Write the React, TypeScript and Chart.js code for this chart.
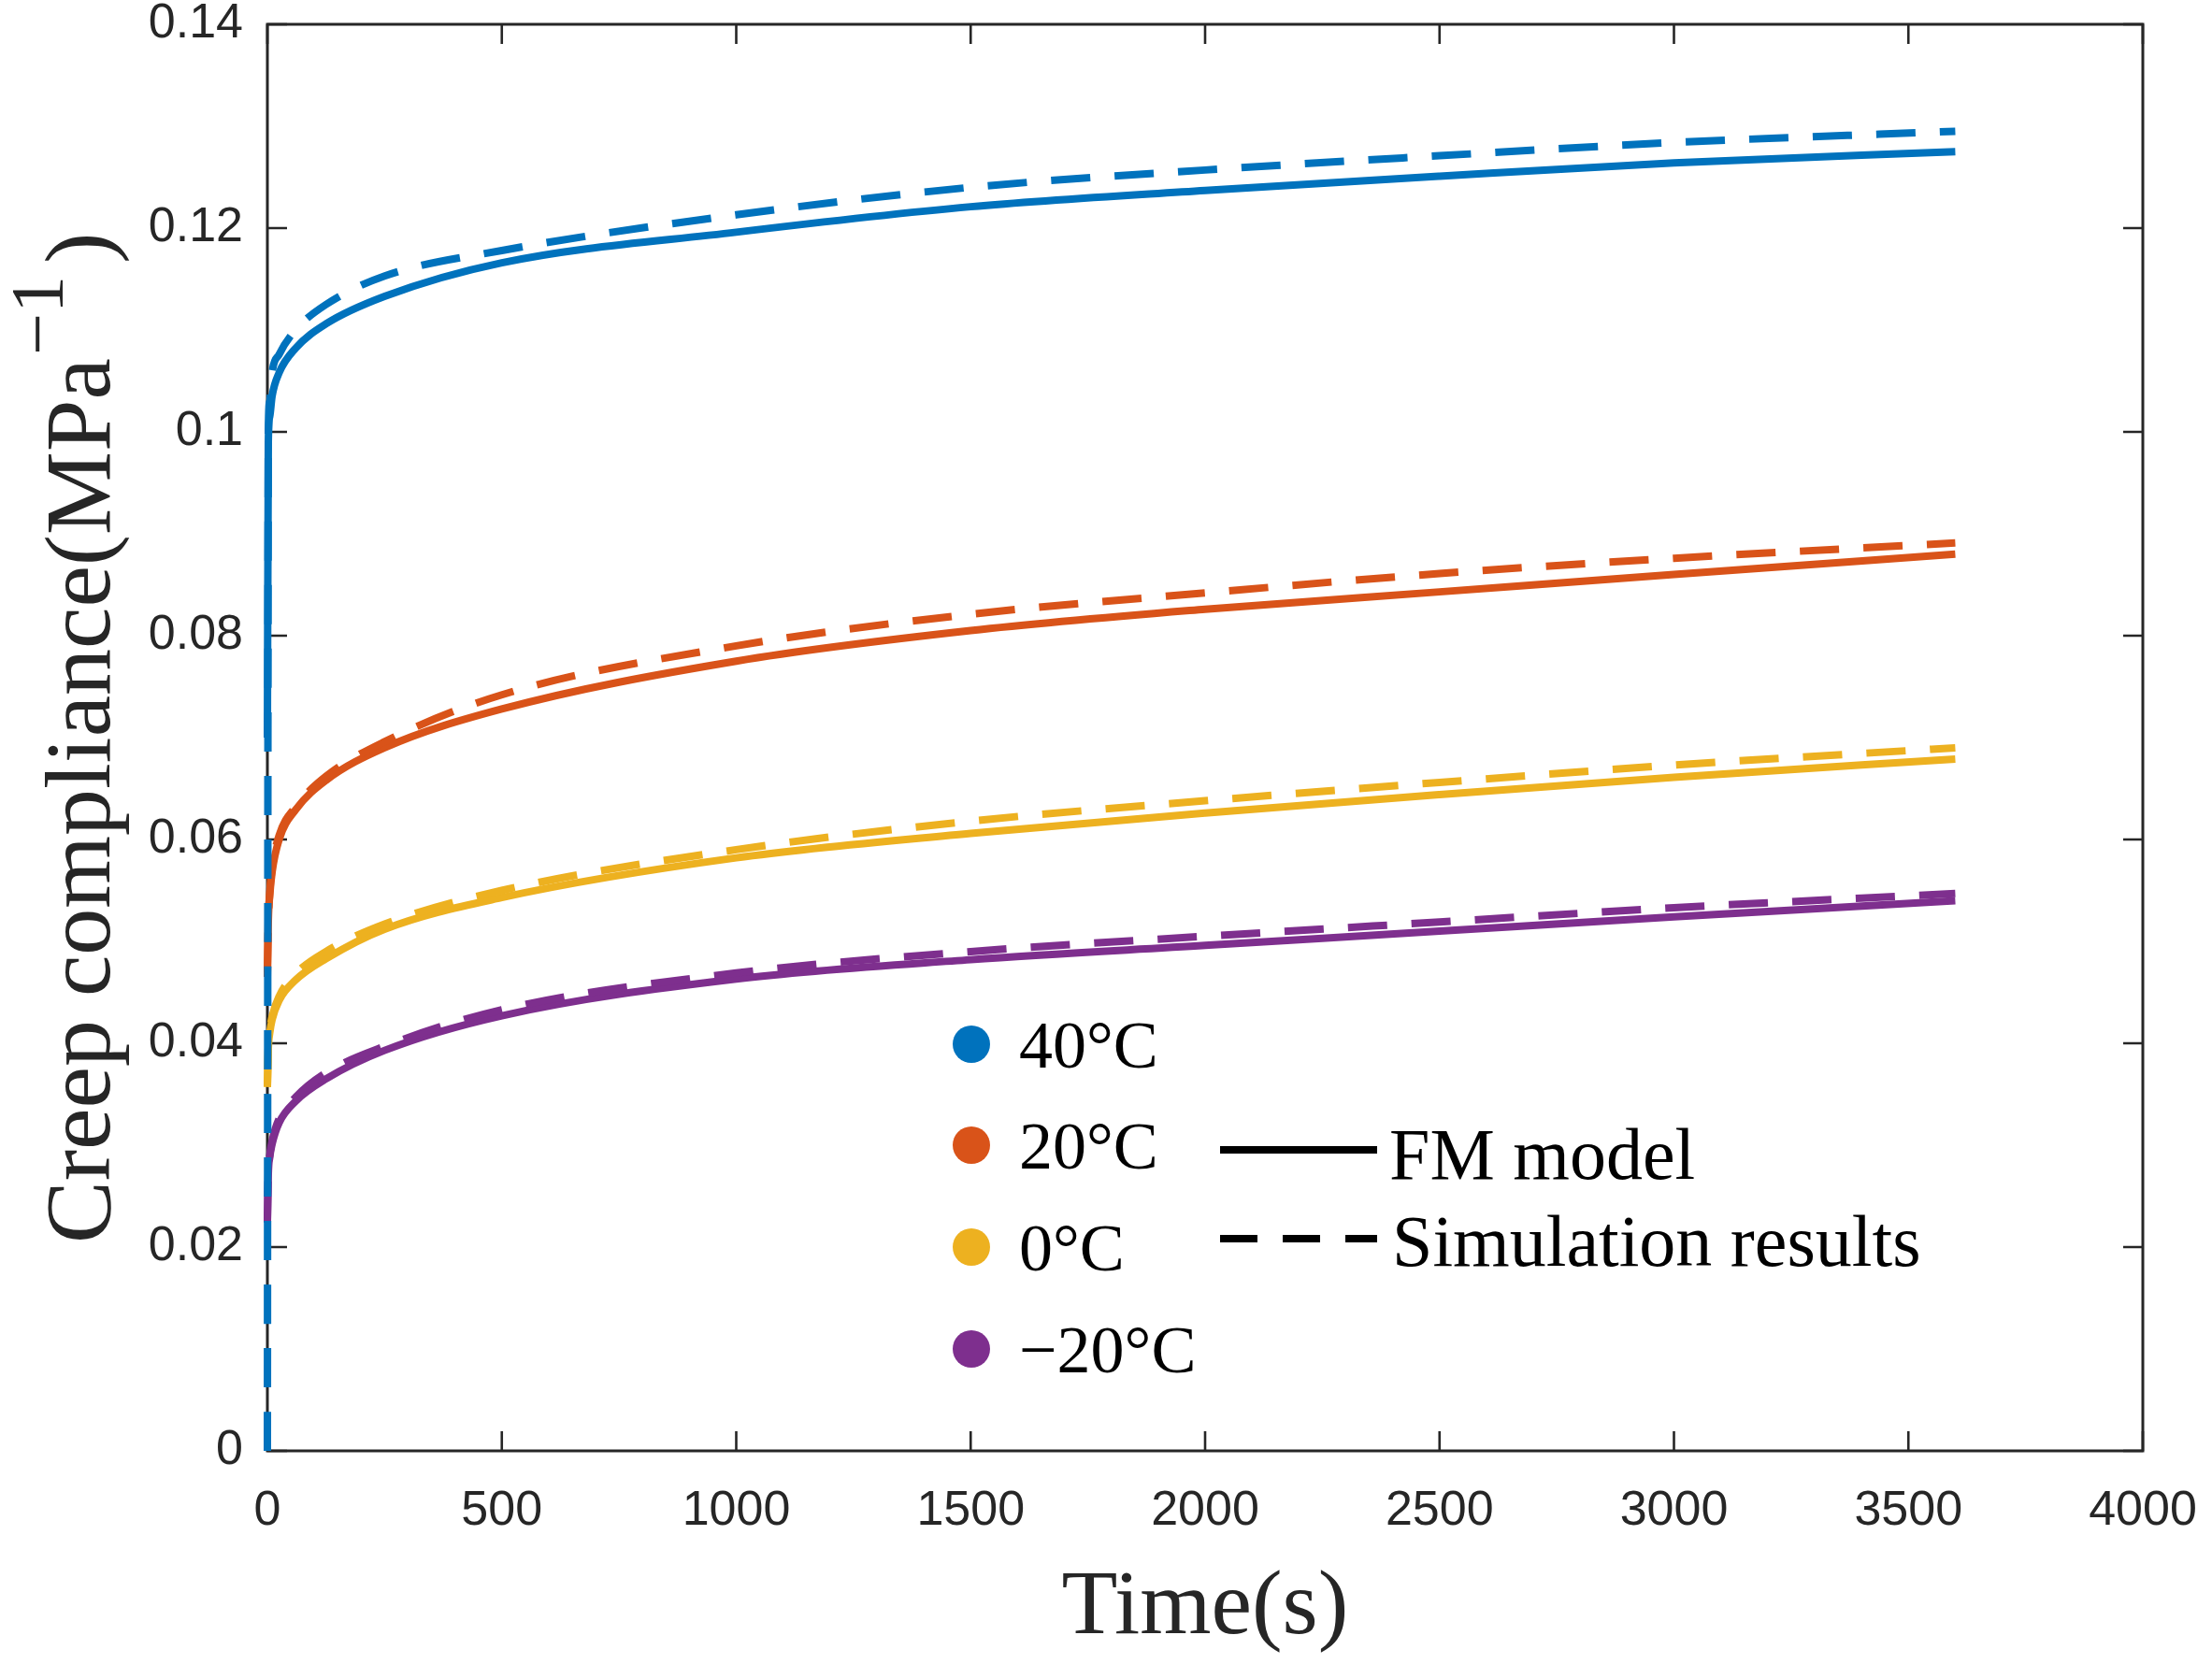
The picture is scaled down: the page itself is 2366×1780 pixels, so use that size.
import React, { useEffect, useRef } from 'react';
import { Chart, registerables } from 'chart.js';

Chart.register(...registerables);

// ---------- data ----------
const TIME = [0, 2, 5, 10, 25, 60, 125, 250, 500, 1000, 1500, 2000, 2500, 3000, 3600];

const FM_40 = [0.07, 0.099, 0.1015, 0.1035, 0.1058, 0.1082, 0.1106, 0.1133, 0.1166, 0.1196, 0.1221, 0.1237, 0.1251, 0.1264, 0.1275];
const SIM_40 = [0, 0.1, 0.103, 0.1058, 0.1076, 0.11, 0.1125, 0.1153, 0.1178, 0.1213, 0.124, 0.1257, 0.1271, 0.1284, 0.1295];

const FM_20 = [0.0465, 0.052, 0.0545, 0.0568, 0.06, 0.0629, 0.0658, 0.069, 0.0728, 0.0775, 0.0805, 0.0826, 0.0843, 0.086, 0.088];
const SIM_20 = [0.047, 0.052, 0.0548, 0.0572, 0.0604, 0.0632, 0.0662, 0.0696, 0.0742, 0.079, 0.0821, 0.0842, 0.0861, 0.0876, 0.0891];

const FM_0 = [0.0357, 0.0395, 0.041, 0.0423, 0.0442, 0.0462, 0.0483, 0.0512, 0.0543, 0.0582, 0.0606, 0.0626, 0.0644, 0.0661, 0.0679];
const SIM_0 = [0.0358, 0.0396, 0.0412, 0.0426, 0.0446, 0.0468, 0.049, 0.0517, 0.055, 0.059, 0.0618, 0.0638, 0.0656, 0.0673, 0.069];

const FM_M20 = [0.0224, 0.0272, 0.0288, 0.0301, 0.0322, 0.0343, 0.0365, 0.0393, 0.0427, 0.0463, 0.0482, 0.0496, 0.051, 0.0524, 0.054];
const SIM_M20 = [0.0226, 0.0275, 0.029, 0.0304, 0.0326, 0.0347, 0.0371, 0.0397, 0.0433, 0.0469, 0.049, 0.0505, 0.0519, 0.0533, 0.0547];

const X_TICK_LABELS = ['0', '500', '1000', '1500', '2000', '2500', '3000', '3500', '4000'];
const Y_TICK_LABELS = ['0', '0.02', '0.04', '0.06', '0.08', '0.1', '0.12', '0.14'];

const TEMP_LABELS = ['40°C', '20°C', '0°C', '\u221220°C'];
const STYLE_LABELS = ['FM model', 'Simulation results'];
const COLORS = ['#0072BD', '#D95319', '#EDB120', '#7E2F8E'];

const X_TITLE = 'Time(s)';
const Y_TITLE_MAIN = 'Creep compliance(MPa';
const Y_TITLE_SUP = '\u22121';
const Y_TITLE_END = ')';

const AXIS_COLOR = '#262626';
const SANS = '"Liberation Sans", Arial, sans-serif';
const SERIF = '"Liberation Serif", "Times New Roman", serif';

const toPoints = (vals: number[]) => TIME.map((t, i) => ({ x: t, y: vals[i] }));

const DASH = [42, 26];
const LW = 8;

export default function App() {
  const ref = useRef<HTMLCanvasElement | null>(null);

  useEffect(() => {
    const canvas = ref.current;
    if (!canvas) return;

    const framePlugin = {
      id: 'frame',
      beforeDatasetsDraw(chart: any) {
        const { ctx, chartArea } = chart;
        const { left, right, top, bottom } = chartArea;
        const xs = chart.scales.x;
        const ys = chart.scales.y;
        ctx.save();
        ctx.strokeStyle = AXIS_COLOR;
        ctx.lineWidth = 3;
        ctx.strokeRect(left, top, right - left, bottom - top);
        ctx.lineWidth = 2.6;
        const tl = 21;
        ctx.beginPath();
        for (let i = 0; i < X_TICK_LABELS.length; i++) {
          const px = xs.getPixelForValue(i * 500);
          ctx.moveTo(px, bottom);
          ctx.lineTo(px, bottom - tl);
          ctx.moveTo(px, top);
          ctx.lineTo(px, top + tl);
        }
        for (let i = 0; i < Y_TICK_LABELS.length; i++) {
          const py = ys.getPixelForValue(i * 0.02);
          ctx.moveTo(left, py);
          ctx.lineTo(left + tl, py);
          ctx.moveTo(right, py);
          ctx.lineTo(right - tl, py);
        }
        ctx.stroke();
        ctx.restore();
      },
      afterDraw(chart: any) {
        const { ctx, chartArea } = chart;

        // x title
        ctx.save();
        ctx.fillStyle = AXIS_COLOR;
        ctx.font = `98px ${SERIF}`;
        ctx.textAlign = 'center';
        ctx.textBaseline = 'alphabetic';
        ctx.fillText(X_TITLE, (chartArea.left + chartArea.right) / 2, 1747);
        ctx.restore();

        // y title (rotated, reading bottom to top; local x = -screenY)
        ctx.save();
        ctx.fillStyle = AXIS_COLOR;
        ctx.textBaseline = 'alphabetic';
        ctx.textAlign = 'left';
        ctx.font = `100px ${SERIF}`;
        const w1 = ctx.measureText(Y_TITLE_MAIN).width;
        const mainEnd = 383;
        ctx.translate(117, 0);
        ctx.rotate(-Math.PI / 2);
        ctx.fillText(Y_TITLE_MAIN, -(mainEnd + w1), 0);
        ctx.font = `80px ${SERIF}`;
        ctx.fillText(Y_TITLE_SUP, -380, -50);
        ctx.font = `100px ${SERIF}`;
        ctx.fillText(Y_TITLE_END, -282, 0);
        ctx.restore();

        // legend
        ctx.save();
        const dotX = 1039;
        const dotYs = [1117, 1225, 1334, 1443];
        ctx.textAlign = 'left';
        ctx.textBaseline = 'alphabetic';
        ctx.font = `72px ${SERIF}`;
        for (let i = 0; i < TEMP_LABELS.length; i++) {
          ctx.fillStyle = COLORS[i];
          ctx.beginPath();
          ctx.arc(dotX, dotYs[i], 20, 0, Math.PI * 2);
          ctx.fill();
          ctx.fillStyle = '#000';
          ctx.fillText(TEMP_LABELS[i], 1090, dotYs[i] + 25);
        }
        ctx.strokeStyle = '#000';
        ctx.lineWidth = LW;
        ctx.lineCap = 'butt';
        ctx.beginPath();
        ctx.moveTo(1305, 1230);
        ctx.lineTo(1473, 1230);
        ctx.stroke();
        ctx.setLineDash([40, 27]);
        ctx.beginPath();
        ctx.moveTo(1305, 1325);
        ctx.lineTo(1473, 1325);
        ctx.stroke();
        ctx.setLineDash([]);
        ctx.fillStyle = '#000';
        ctx.font = `78px ${SERIF}`;
        ctx.fillText(STYLE_LABELS[0], 1486, 1261);
        ctx.fillText(STYLE_LABELS[1], 1489, 1354);
        ctx.restore();
      },
    };

    const sims = [SIM_40, SIM_20, SIM_0, SIM_M20];
    const fms = [FM_40, FM_20, FM_0, FM_M20];
    const datasets: any[] = [];
    sims.forEach((s, i) => {
      datasets.push({
        label: 'Simulation results ' + TEMP_LABELS[i],
        data: toPoints(s),
        borderColor: COLORS[i],
        backgroundColor: COLORS[i],
        borderWidth: LW,
        borderDash: DASH,
        pointRadius: 0,
        fill: false,
        cubicInterpolationMode: 'monotone',
        clip: false,
      });
    });
    fms.forEach((s, i) => {
      datasets.push({
        label: 'FM model ' + TEMP_LABELS[i],
        data: toPoints(s),
        borderColor: COLORS[i],
        backgroundColor: COLORS[i],
        borderWidth: LW,
        pointRadius: 0,
        fill: false,
        cubicInterpolationMode: 'monotone',
        clip: false,
      });
    });

    const chart = new Chart(canvas, {
      type: 'line',
      data: { datasets },
      plugins: [framePlugin],
      options: {
        animation: false,
        responsive: false,
        devicePixelRatio: 1,
        layout: { padding: { top: 26, right: 74, left: 0, bottom: 0 } },
        plugins: { legend: { display: false }, tooltip: { enabled: false } },
        scales: {
          x: {
            type: 'linear',
            min: 0,
            max: 4000,
            grid: { display: false, drawTicks: false },
            border: { display: false },
            afterFit: (scale: any) => {
              scale.height = 228;
              scale.paddingLeft = 0;
              scale.paddingRight = 0;
            },
            ticks: {
              stepSize: 500,
              padding: 33,
              color: AXIS_COLOR,
              font: { family: SANS, size: 52 },
              maxRotation: 0,
              autoSkip: false,
              callback: (_v: any, i: number) => X_TICK_LABELS[i],
            },
          },
          y: {
            type: 'linear',
            min: 0,
            max: 0.14,
            grid: { display: false, drawTicks: false },
            border: { display: false },
            afterFit: (scale: any) => {
              scale.width = 286;
              scale.paddingTop = 0;
              scale.paddingBottom = 0;
            },
            ticks: {
              stepSize: 0.02,
              padding: 26,
              color: AXIS_COLOR,
              font: { family: SANS, size: 52 },
              autoSkip: false,
              callback: (_v: any, i: number) => Y_TICK_LABELS[i],
            },
          },
        },
      } as any,
    });

    return () => chart.destroy();
  }, []);

  return (
    <div style={{ position: 'fixed', left: 0, top: 0, width: 2366, height: 1780, background: '#fff' }}>
      <canvas ref={ref} width={2366} height={1780} style={{ width: 2366, height: 1780, display: 'block' }} />
    </div>
  );
}
